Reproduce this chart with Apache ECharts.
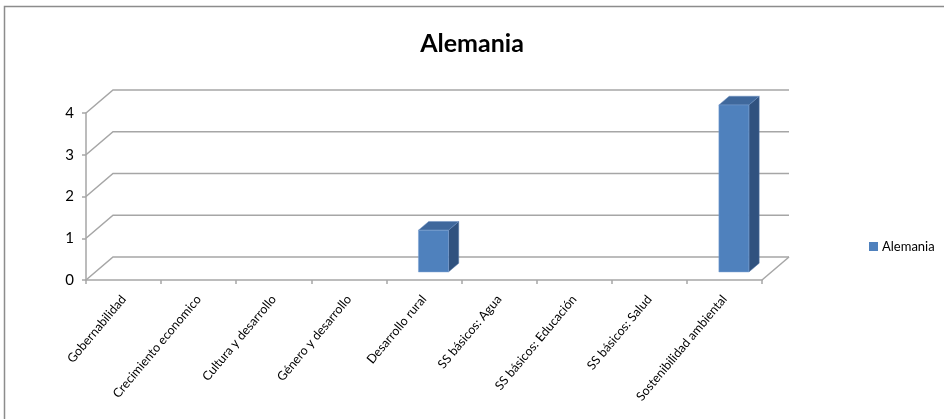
<!DOCTYPE html>
<html>
<head>
<meta charset="utf-8">
<script src="https://cdn.jsdelivr.net/npm/echarts@6/dist/echarts.min.js"></script>
<style>
  html, body { margin: 0; padding: 0; background: #fff; }
  #chart { width: 944px; height: 419px; }
</style>
</head>
<body>
<div id="chart"></div>
<script>
const categories = [
  'Gobernabilidad',
  'Crecimiento economico',
  'Cultura y desarrollo',
  'Género y desarrollo',
  'Desarrollo rural',
  'SS básicos: Agua',
  'SS básicos: Educación',
  'SS básicos: Salud',
  'Sostenibilidad ambiental'
];
const values = [0, 0, 0, 0, 1, 0, 0, 0, 4];
const yTicks = [0, 1, 2, 3, 4];
const seriesName = 'Alemania';

// Oblique projection of the 3D box: back wall is shifted by this offset
const DEPTH_X = 27;
const DEPTH_Y = -23;
// Bars occupy this slice of the floor depth, and this share of a category band
const BAR_FRONT = 0.35;
const BAR_BACK = 0.73;
const BAR_WIDTH = 0.4;

const GRID_COLOR = '#a6a6a6';
const FRONT_COLOR = '#4f81bd';
const TOP_COLOR = '#3f689c';
const SIDE_COLOR = '#30527f';

const chart = echarts.init(document.getElementById('chart'));

function renderWalls(params, api) {
  const cs = params.coordSys;
  const v = api.value(1);
  const y = api.coord([0, v])[1];
  const left = cs.x;
  const right = cs.x + cs.width;
  const children = [{
    type: 'polyline',
    shape: { points: [[left, y], [left + DEPTH_X, y + DEPTH_Y], [right + DEPTH_X, y + DEPTH_Y]] },
    style: { stroke: GRID_COLOR, lineWidth: 1.5, fill: null }
  }];
  if (v === 0) {
    children.push({
      type: 'line',
      shape: { x1: right, y1: y, x2: right + DEPTH_X, y2: y + DEPTH_Y },
      style: { stroke: GRID_COLOR, lineWidth: 1.5 }
    });
  }
  return { type: 'group', children };
}

function renderBar(params, api) {
  const v = api.value(1);
  if (!v) return null;
  const idx = api.value(0);
  const base = api.coord([idx, 0]);
  const top = api.coord([idx, v]);
  const bw = api.size([1, 0])[0] * BAR_WIDTH;
  const x0 = base[0] - bw / 2 + DEPTH_X * BAR_FRONT;
  const x1 = x0 + bw;
  const yb = base[1] + DEPTH_Y * BAR_FRONT;
  const yt = top[1] + DEPTH_Y * BAR_FRONT;
  const ox = DEPTH_X * (BAR_BACK - BAR_FRONT);
  const oy = DEPTH_Y * (BAR_BACK - BAR_FRONT);
  return {
    type: 'group',
    children: [
      {
        type: 'polygon',
        shape: { points: [[x1, yt], [x1 + ox, yt + oy], [x1 + ox, yb + oy], [x1, yb]] },
        style: { fill: SIDE_COLOR, stroke: '#5a7fae', lineWidth: 0.5 }
      },
      {
        type: 'polygon',
        shape: { points: [[x0, yt], [x1, yt], [x1 + ox, yt + oy], [x0 + ox, yt + oy]] },
        style: { fill: TOP_COLOR, stroke: '#6a8fc0', lineWidth: 0.5 }
      },
      {
        type: 'rect',
        shape: { x: x0, y: yt, width: bw, height: yb - yt },
        style: { fill: FRONT_COLOR, stroke: '#7fa3d3', lineWidth: 0.5 }
      }
    ]
  };
}

chart.setOption({
  animation: false,
  backgroundColor: '#fff',
  title: {
    text: seriesName,
    left: 'center',
    top: 26,
    textStyle: { fontFamily: 'Lato', fontSize: 25, fontWeight: 'bold', color: '#000' }
  },
  legend: {
    data: [{ name: seriesName, icon: 'rect' }],
    left: 864,
    top: 235,
    itemWidth: 9,
    itemHeight: 9,
    itemGap: 4,
    textStyle: { fontFamily: 'Lato', fontSize: 13, color: '#000', padding: [0, 0, 0, -1] }
  },
  graphic: [
    {
      type: 'polyline',
      shape: { points: [[4.5, 419], [4.5, 6.5], [944, 6.5]] },
      style: { fill: null, stroke: '#8c8c8c', lineWidth: 1.5 },
      silent: true
    }
  ],
  grid: { left: 86, right: 182, top: 113, bottom: 139 },
  xAxis: {
    type: 'category',
    data: categories,
    boundaryGap: true,
    axisLine: { show: true, lineStyle: { color: GRID_COLOR, width: 1.5 } },
    axisTick: { show: true, length: 4, lineStyle: { color: GRID_COLOR, width: 1.5 } },
    axisLabel: {
      interval: 0,
      rotate: 50,
      margin: 17,
      fontFamily: 'Lato',
      fontSize: 12.5,
      color: '#000'
    },
    splitLine: { show: false }
  },
  yAxis: {
    type: 'value',
    min: 0,
    max: 4,
    interval: 1,
    axisLine: { show: true, lineStyle: { color: GRID_COLOR, width: 1.5 } },
    axisTick: { show: true, length: 4, lineStyle: { color: GRID_COLOR, width: 1.5 } },
    axisLabel: { margin: 12, fontFamily: 'Lato', fontSize: 15, color: '#000' },
    splitLine: { show: false }
  },
  series: [
    {
      type: 'custom',
      name: 'walls',
      z: 1,
      silent: true,
      renderItem: renderWalls,
      data: yTicks.map(v => [0, v])
    },
    {
      type: 'custom',
      name: seriesName,
      z: 3,
      itemStyle: { color: FRONT_COLOR },
      renderItem: renderBar,
      data: values.map((v, i) => [i, v])
    }
  ]
});
</script>
</body>
</html>
